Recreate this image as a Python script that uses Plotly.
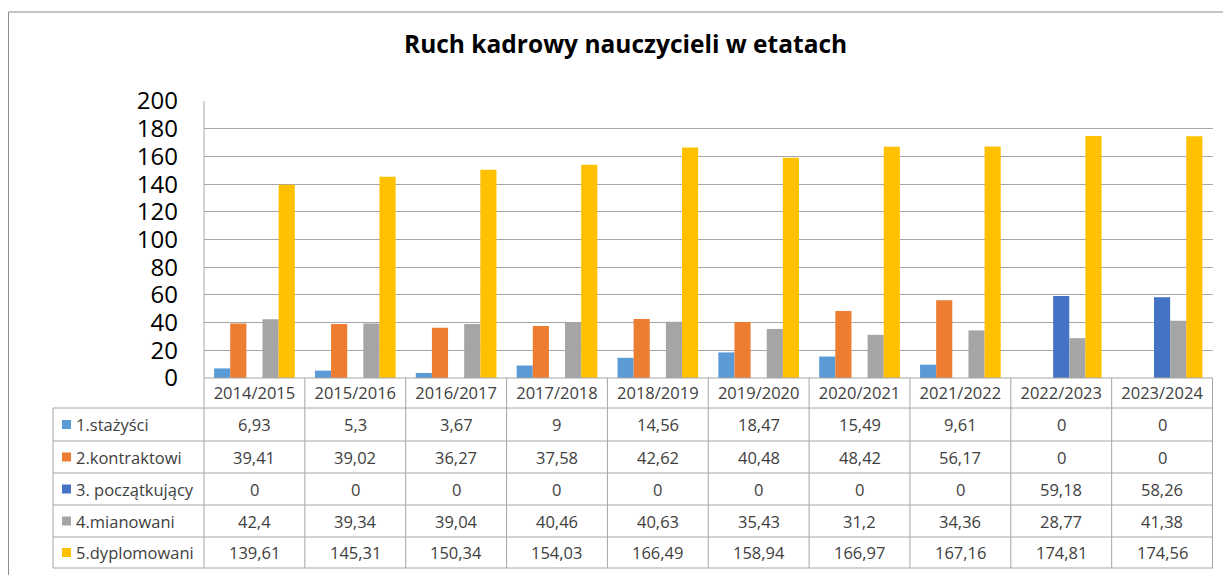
import plotly.graph_objects as go

years = ["2014/2015", "2015/2016", "2016/2017", "2017/2018", "2018/2019",
         "2019/2020", "2020/2021", "2021/2022", "2022/2023", "2023/2024"]
stazysci = [6.93, 5.3, 3.67, 9, 14.56, 18.47, 15.49, 9.61, 0, 0]
kontraktowi = [39.41, 39.02, 36.27, 37.58, 42.62, 40.48, 48.42, 56.17, 0, 0]
poczatkujacy = [0, 0, 0, 0, 0, 0, 0, 0, 59.18, 58.26]
mianowani = [42.4, 39.34, 39.04, 40.46, 40.63, 35.43, 31.2, 34.36, 28.77, 41.38]
dyplomowani = [139.61, 145.31, 150.34, 154.03, 166.49, 158.94, 166.97, 167.16, 174.81, 174.56]

series_names = ["1.stażyści", "2.kontraktowi", "3. początkujący", "4.mianowani", "5.dyplomowani"]
series_values = [stazysci, kontraktowi, poczatkujacy, mianowani, dyplomowani]
colors = ["#5B9BD5", "#ED7D31", "#4472C4", "#A5A5A5", "#FFC000"]

W, H = 1231, 575
OFF = 8  # page body margin, everything is placed relative to the window
FONT = "Open Sans"
GRID = "#A6A6A6"
TXT = "#404040"


def px(x):
    return (x - OFF) / W


def py(y):
    return 1 - (y - OFF) / H


fig = go.Figure()
for name, vals, col in zip(series_names, series_values, colors):
    fig.add_trace(go.Bar(x=years, y=vals, name=name, marker_color=col,
                         marker_line_width=0))

# plot area (window pixels)
left, right, top, bottom = 204, 1213, 101, 378
table_left = 53
row_lines = [408, 441, 473, 505, 537, 568]


def hline(y, x0, x1, color=GRID):
    return dict(type="line", xref="paper", yref="paper", x0=px(x0), x1=px(x1),
                y0=py(y), y1=py(y), line=dict(color=color, width=1))


def vline(x, y0, y1, color=GRID):
    return dict(type="line", xref="paper", yref="paper", x0=px(x), x1=px(x),
                y0=py(y0), y1=py(y1), line=dict(color=color, width=1))


shapes = []
# outer chart border (only top and left are inside the window)
shapes.append(hline(12, 8.5, 1260, "#8C8C8C"))
shapes.append(vline(8.5, 12, 600, "#8C8C8C"))
# table grid
for ry in row_lines:
    shapes.append(hline(ry, table_left, right))
shapes.append(hline(bottom, left, right))
shapes.append(vline(table_left, row_lines[0], row_lines[-1]))
shapes.append(vline(left, top, row_lines[-1]))
for i in range(1, len(years) + 1):
    shapes.append(dict(type="line", xref="x", yref="paper", x0=i - 0.5, x1=i - 0.5,
                       y0=py(bottom), y1=py(row_lines[-1]), line=dict(color=GRID, width=1)))

annotations = []
annotations.append(dict(text="<b>Ruch kadrowy nauczycieli w etatach</b>", xref="paper", yref="paper",
                        x=px(625), y=py(44), xanchor="center", yanchor="middle", showarrow=False,
                        font=dict(family=FONT, size=24.5, color="#000000")))
for r, (name, vals, col) in enumerate(zip(series_names, series_values, colors)):
    yc = (row_lines[r] + row_lines[r + 1]) / 2
    shapes.append(dict(type="rect", xref="paper", yref="paper", x0=px(62), x1=px(71),
                       y0=py(yc - 4.5), y1=py(yc + 4.5), fillcolor=col, line=dict(width=0)))
    annotations.append(dict(text=name, xref="paper", yref="paper", x=px(74), y=py(yc),
                            xanchor="left", yanchor="middle", showarrow=False,
                            font=dict(family=FONT, size=16.5, color=TXT)))
    for i, v in enumerate(vals):
        annotations.append(dict(text=f"{v:g}".replace(".", ","), xref="x", yref="paper",
                                x=i, y=py(yc), xanchor="center", yanchor="middle", showarrow=False,
                                font=dict(family=FONT, size=16.5, color=TXT)))

fig.update_layout(
    width=W, height=H,
    margin=dict(l=0, r=0, t=0, b=0, autoexpand=False),
    paper_bgcolor="white", plot_bgcolor="white",
    barmode="group", bargap=0.2, bargroupgap=0,
    showlegend=False,
    shapes=shapes, annotations=annotations,
    xaxis=dict(domain=[px(left), px(right)], showgrid=False, showline=False,
               ticks="", tickfont=dict(family=FONT, size=16.5, color=TXT),
               ticklabelstandoff=3, automargin=False),
    yaxis=dict(domain=[py(bottom), py(top)], range=[0, 200], dtick=20,
               showgrid=True, gridcolor=GRID, gridwidth=1, zeroline=False,
               showline=False, ticks="", automargin=False,
               tickfont=dict(family=FONT, size=24, color="#000000"),
               ticklabelstandoff=25),
)

fig.write_html("out.html")
